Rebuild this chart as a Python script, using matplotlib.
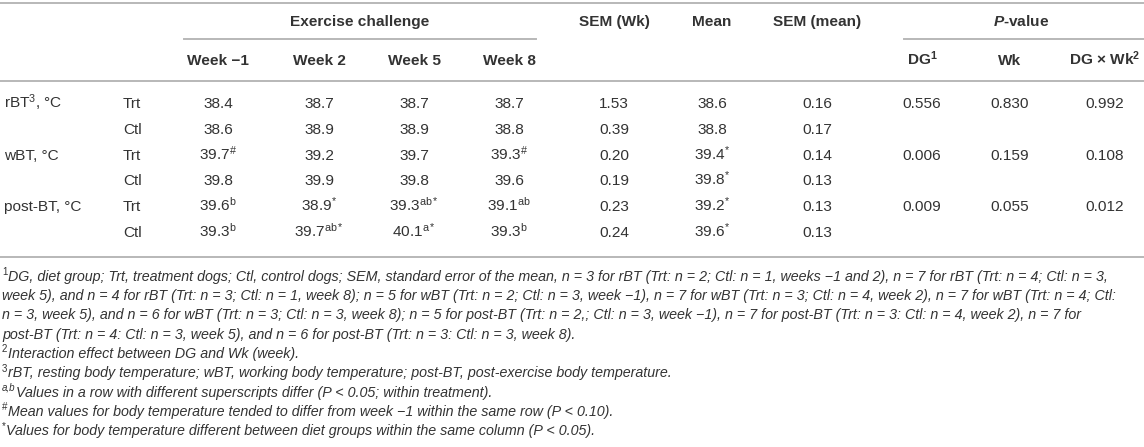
# table of body temperatures (exercise challenge), drawn as figure text

import matplotlib.pyplot as plt

plt.rcParams['font.family'] = ['Liberation Sans', 'DejaVu Sans']
plt.rcParams['mathtext.fontset'] = 'custom'
plt.rcParams['mathtext.rm'] = 'Liberation Sans'
plt.rcParams['mathtext.it'] = 'Liberation Sans:italic'
plt.rcParams['mathtext.bf'] = 'Liberation Sans:bold'
plt.rcParams['mathtext.sf'] = 'Liberation Sans:bold:italic'

measures = ['rBT$^{3}$, °C', 'wBT, °C', 'post-BT, °C']
groups = ['Trt', 'Ctl']
week_labels = ['Week \u22121', 'Week 2', 'Week 5', 'Week 8']
week_vals = [
    [38.4, 38.7, 38.7, 38.7],
    [38.6, 38.9, 38.9, 38.8],
    [39.7, 39.2, 39.7, 39.3],
    [39.8, 39.9, 39.8, 39.6],
    [39.6, 38.9, 39.3, 39.1],
    [39.3, 39.7, 40.1, 39.3],
]
week_sup = [
    ['', '', '', ''],
    ['', '', '', ''],
    ['\\#', '', '', '\\#'],
    ['', '', '', ''],
    ['b', '*', 'ab*', 'ab'],
    ['b', 'ab*', 'a*', 'b'],
]
sem_wk = [1.53, 0.39, 0.20, 0.19, 0.23, 0.24]
mean_vals = [38.6, 38.8, 39.4, 39.8, 39.2, 39.6]
mean_sup = ['', '', '*', '*', '*', '*']
sem_mean = [0.16, 0.17, 0.14, 0.13, 0.13, 0.13]
p_dg = [0.556, 0.006, 0.009]
p_wk = [0.830, 0.159, 0.055]
p_int = [0.992, 0.108, 0.012]

# (superscript mark, text) for each footnote line
footnotes = [
    ('1', 'DG, diet group; Trt, treatment dogs; Ctl, control dogs; SEM, standard error of the mean, n = 3 for rBT (Trt: n = 2; Ctl: n = 1, weeks \u22121 and 2), n = 7 for rBT (Trt: n = 4; Ctl: n = 3,'),
    ('', 'week 5), and n = 4 for rBT (Trt: n = 3; Ctl: n = 1, week 8); n = 5 for wBT (Trt: n = 2; Ctl: n = 3, week \u22121), n = 7 for wBT (Trt: n = 3; Ctl: n = 4, week 2), n = 7 for wBT (Trt: n = 4; Ctl:'),
    ('', 'n = 3, week 5), and n = 6 for wBT (Trt: n = 3; Ctl: n = 3, week 8); n = 5 for post-BT (Trt: n = 2,; Ctl: n = 3, week \u22121), n = 7 for post-BT (Trt: n = 3: Ctl: n = 4, week 2), n = 7 for'),
    ('', 'post-BT (Trt: n = 4: Ctl: n = 3, week 5), and n = 6 for post-BT (Trt: n = 3: Ctl: n = 3, week 8).'),
    ('2', 'Interaction effect between DG and Wk (week).'),
    ('3', 'rBT, resting body temperature; wBT, working body temperature; post-BT, post-exercise body temperature.'),
    ('a,b', 'Values in a row with different superscripts differ (P < 0.05; within treatment).'),
    ('#', 'Mean values for body temperature tended to differ from week \u22121 within the same row (P < 0.10).'),
    ('*', 'Values for body temperature different between diet groups within the same column (P < 0.05).'),
]

W, H = 1144, 447
fig = plt.figure(figsize=(W / 100, H / 100), dpi=100)
renderer = fig.canvas.get_renderer()

TXT = '#333333'
LINE = '#b8b8b8'
FS = 11.1
FS_NOTE = 10.3


def put(x, y, s, ha='center', size=FS, **kw):
    # y is the vertical middle of the capitals, in pixels from the top
    return fig.text(x / W, 1 - (y + size * 0.36) / H, s, ha=ha, va='baseline',
                    fontsize=size, color=TXT, **kw)


def hline(x0, x1, y):
    fig.add_artist(plt.Line2D([x0 / W, x1 / W], [1 - y / H, 1 - y / H],
                              color=LINE, lw=1.4))


def sup(s):
    return '$^{\\mathrm{' + s + '}}$' if s else ''


# rules
hline(0, W, 3)
hline(184, 536, 39)
hline(904, W, 39)
hline(0, W, 81)
hline(0, W, 257)

week_x = [218, 319, 414, 509]
x_sem_wk, x_mean, x_sem_mean = 614, 712, 817
x_dg, x_wk, x_int = 922, 1010, 1105

# header
put(360, 22, 'Exercise challenge', weight='bold')
put(x_sem_wk, 22, 'SEM (Wk)', weight='bold')
put(x_mean, 22, 'Mean', weight='bold')
put(x_sem_mean, 22, 'SEM (mean)', weight='bold')
put(1021, 22, '$\\mathsf{P}$-value', weight='bold')
for x, lab in zip(week_x, week_labels):
    put(x, 61, lab, weight='bold')
put(x_dg, 61, 'DG$^{\\mathbf{1}}$', weight='bold')
put(x_wk, 61, 'Wk', weight='bold')
put(x_int, 61, 'DG \u00d7 Wk$^{\\mathbf{2}}$', weight='bold')

# body
row_y = [104 + 25.8 * i for i in range(6)]
for i, y in enumerate(row_y):
    if i % 2 == 0:
        put(4, y, measures[i // 2], ha='left')
        put(x_dg, y, f'{p_dg[i // 2]:.3f}')
        put(x_wk, y, f'{p_wk[i // 2]:.3f}')
        put(x_int, y, f'{p_int[i // 2]:.3f}')
    put(123, y, groups[i % 2], ha='left')
    for j, x in enumerate(week_x):
        put(x, y, f'{week_vals[i][j]:.1f}' + sup(week_sup[i][j]))
    put(x_sem_wk, y, f'{sem_wk[i]:.2f}')
    put(x_mean, y, f'{mean_vals[i]:.1f}' + sup(mean_sup[i]))
    put(x_sem_mean, y, f'{sem_mean[i]:.2f}')

# footnotes: small raised mark, then the italic text right after it
for k, (mark, note) in enumerate(footnotes):
    y = 277 + 19.3 * k
    x = 2
    if mark:
        t = put(x, y - 4.5, mark, ha='left', size=FS_NOTE * 0.68,
                style='italic' if mark == 'a,b' else 'normal')
        x += t.get_window_extent(renderer).width + 0.5
    put(x, y, note, ha='left', size=FS_NOTE, style='italic')

fig.savefig('out.png', dpi=100)
